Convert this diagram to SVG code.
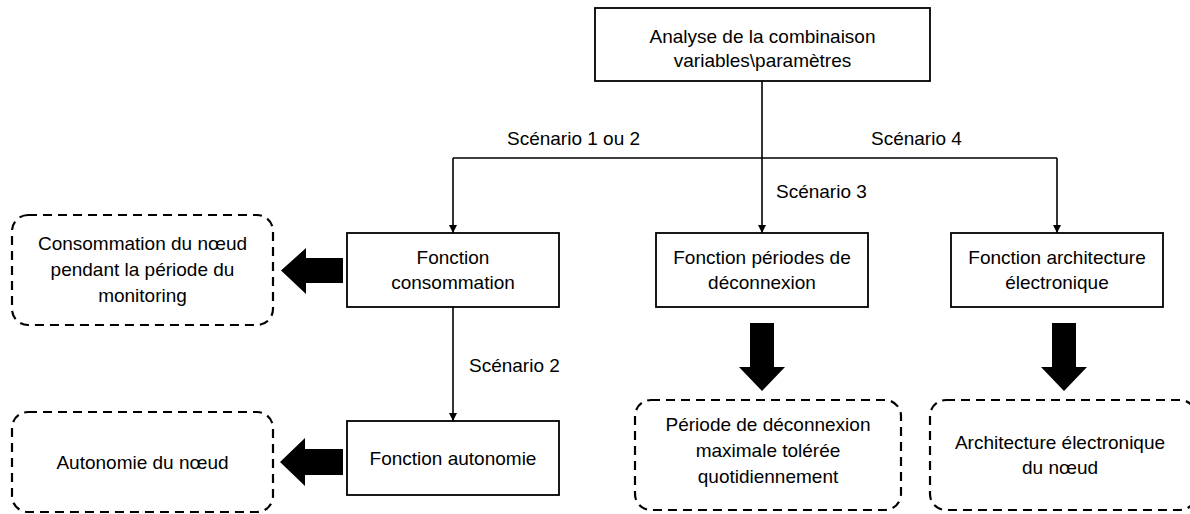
<svg xmlns="http://www.w3.org/2000/svg" width="1190" height="514" viewBox="0 0 1190 514">
<defs>
<marker id="ah" viewBox="0 0 10 10" refX="10" refY="5" markerWidth="8" markerHeight="8" markerUnits="userSpaceOnUse" orient="auto">
<path d="M0,0 L10,5 L0,10 Z" fill="#000"/>
</marker>
<style>
.box{fill:#fff;stroke:#000;stroke-width:1.8}
.dbox{fill:#fff;stroke:#000;stroke-width:2.2;stroke-dasharray:9 6}
.t{font-family:"Liberation Sans",Arial,sans-serif;font-size:19px;fill:#000;text-anchor:middle}
.l{font-family:"Liberation Sans",Arial,sans-serif;font-size:19px;fill:#000}
.c{fill:none;stroke:#000;stroke-width:1.6}
.ba{fill:#000}
</style>
</defs>
<rect width="1190" height="514" fill="#fff"/>
<g id="connectors">
<path class="c" d="M762,81 V233" marker-end="url(#ah)"/>
<path class="c" d="M453,158 H1057"/>
<path class="c" d="M453,158 V233" marker-end="url(#ah)"/>
<path class="c" d="M1057,158 V233" marker-end="url(#ah)"/>
<path class="c" d="M453,307 V421" marker-end="url(#ah)"/>
<path class="ba" d="M343,258 H306 V248 L281,270.5 L306,294 V283 H343 Z"/>
<path class="ba" d="M343,449 H305 V438 L280,462 L305,486 V475 H343 Z"/>
<path class="ba" d="M750,323 V367 H739 L762,391 L785,367 H774 V323 Z"/>
<path class="ba" d="M1052,323 V367 H1041 L1064,391 L1087,367 H1076 V323 Z"/>
<text class="l" x="507" y="145">Scénario 1 ou 2</text>
<text class="l" x="871" y="145">Scénario 4</text>
<text class="l" x="776" y="198">Scénario 3</text>
<text class="l" x="469" y="372">Scénario 2</text>
</g>
<g id="analyse">
<rect class="box" x="595" y="8" width="335" height="73"/>
<text class="t" x="762.5" y="43">Analyse de la combinaison</text>
<text class="t" x="762.5" y="67">variables\paramètres</text>
</g>
<g id="consommation">
<rect class="box" x="347" y="233" width="212" height="74"/>
<text class="t" x="453" y="264">Fonction</text>
<text class="t" x="453" y="289">consommation</text>
</g>
<g id="periodes">
<rect class="box" x="656" y="233" width="212" height="74"/>
<text class="t" x="762" y="264">Fonction périodes de</text>
<text class="t" x="762" y="289">déconnexion</text>
</g>
<g id="architecture">
<rect class="box" x="951" y="233" width="212" height="74"/>
<text class="t" x="1057" y="264">Fonction architecture</text>
<text class="t" x="1057" y="289">électronique</text>
</g>
<g id="autonomie">
<rect class="box" x="347" y="421" width="212" height="74"/>
<text class="t" x="453" y="465">Fonction autonomie</text>
</g>
<g id="res-consommation">
<rect class="dbox" x="12" y="215" width="261" height="110" rx="16"/>
<text class="t" x="142.5" y="250">Consommation du nœud</text>
<text class="t" x="142.5" y="276">pendant la période du</text>
<text class="t" x="142.5" y="302">monitoring</text>
</g>
<g id="res-autonomie">
<rect class="dbox" x="12" y="412" width="261" height="100" rx="16"/>
<text class="t" x="142.5" y="469">Autonomie du nœud</text>
</g>
<g id="res-deconnexion">
<rect class="dbox" x="635" y="400" width="266" height="110" rx="16"/>
<text class="t" x="768" y="431">Période de déconnexion</text>
<text class="t" x="768" y="457">maximale tolérée</text>
<text class="t" x="768" y="483">quotidiennement</text>
</g>
<g id="res-architecture">
<rect class="dbox" x="930" y="400" width="266" height="110" rx="16"/>
<text class="t" x="1060" y="449">Architecture électronique</text>
<text class="t" x="1060" y="474">du nœud</text>
</g>
</svg>
